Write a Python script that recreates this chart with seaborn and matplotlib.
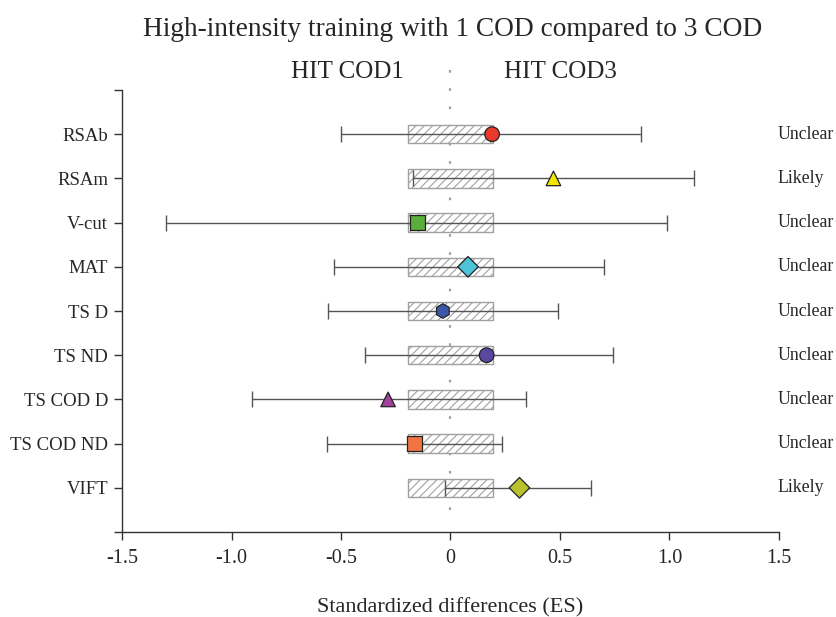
import numpy as np
import pandas as pd
import matplotlib
matplotlib.use("Agg")
import matplotlib.pyplot as plt
import seaborn as sns

# effect sizes (HIT COD1 vs HIT COD3)
measures = ["RSAb", "RSAm", "V-cut", "MAT", "TS D", "TS ND", "TS COD D", "TS COD ND", "VIFT"]
es = [0.19, 0.47, -0.15, 0.08, -0.035, 0.165, -0.285, -0.165, 0.315]
ci_low = [-0.50, -0.17, -1.30, -0.53, -0.56, -0.39, -0.905, -0.565, -0.025]
ci_high = [0.87, 1.11, 0.99, 0.70, 0.49, 0.74, 0.345, 0.235, 0.64]
inference = ["Unclear", "Likely", "Unclear", "Unclear", "Unclear", "Unclear", "Unclear", "Unclear", "Likely"]
trivial = 0.195  # smallest worthwhile change band

colors = ["#e8392b", "#f2e600", "#5aae3c", "#4cc3d6", "#3a58a8", "#5a48a0", "#a2409c", "#f27440", "#b8c22e"]
markers = ["o", "^", "s", "D", "h", "o", "^", "s", "D"]

df = pd.DataFrame({"measure": measures, "es": es, "pos": np.arange(1, len(measures) + 1)})

sns.set_style("ticks")
plt.rcParams["font.family"] = ["Liberation Serif", "DejaVu Serif"]
plt.rcParams["hatch.color"] = "#9a9a9a"
plt.rcParams["hatch.linewidth"] = 0.8

fig = plt.figure(figsize=(8.37, 6.17), dpi=100)
ax = fig.add_axes([122 / 837, 1 - 532 / 617, (779 - 122) / 837, (532 - 90) / 617])

# trivial band boxes
for p in df["pos"]:
    ax.add_patch(plt.Rectangle((-trivial, p - 0.21), 2 * trivial, 0.42, facecolor="white",
                               edgecolor="#a0a0a0", hatch="////", lw=1.0, zorder=1))

# center dotted line
ax.plot([0, 0], [-0.45, 9.7], color="#a0a0a0", lw=1.6, ls=(0, (1.2, 7)), zorder=0.5, clip_on=False)

# confidence intervals
ax.errorbar(df["es"], df["pos"], xerr=[np.array(es) - np.array(ci_low), np.array(ci_high) - np.array(es)],
            fmt="none", ecolor="#555555", elinewidth=1.0, capsize=6, capthick=1.0, zorder=2)

sns.scatterplot(data=df, x="es", y="pos", hue="measure", style="measure",
                palette=dict(zip(measures, colors)), markers=dict(zip(measures, markers)),
                s=110, edgecolor="#222222", linewidth=0.9, legend=False, ax=ax, zorder=3)

ax.set_xlim(-1.5, 1.5)
ax.set_ylim(10, 0)
ax.set_xticks([-1.5, -1.0, -0.5, 0, 0.5, 1.0, 1.5])
ax.set_xticklabels(["-1.5", "-1.0", "-0.5", "0", "0.5", "1.0", "1.5"])
ax.set_yticks(range(0, 11))
ax.set_yticklabels([""] + measures + [""])
ax.tick_params(axis="x", labelsize=14.5, length=6, width=1.0, color="#333333", pad=6)
ax.tick_params(axis="y", labelsize=13.5, length=6, width=1.0, color="#333333", pad=4)
for s in ["top", "right"]:
    ax.spines[s].set_visible(False)
for s in ["left", "bottom"]:
    ax.spines[s].set_linewidth(1.0)
    ax.spines[s].set_color("#333333")
ax.set_xlabel("Standardized differences (ES)", fontsize=16, labelpad=22)
ax.set_ylabel("")

for p, lab in zip(df["pos"], inference):
    ax.text(1.495, p, lab, ha="left", va="center", fontsize=12.8, clip_on=False)

ax.text(-0.47, -0.4, "HIT COD1", ha="center", va="center", fontsize=18, clip_on=False)
ax.text(0.5, -0.4, "HIT COD3", ha="center", va="center", fontsize=18, clip_on=False)

fig.text(453 / 837, 1 - 30 / 617, "High-intensity training with 1 COD compared to 3 COD",
         ha="center", va="center", fontsize=19.7)

fig.savefig("out.png", dpi=100)
